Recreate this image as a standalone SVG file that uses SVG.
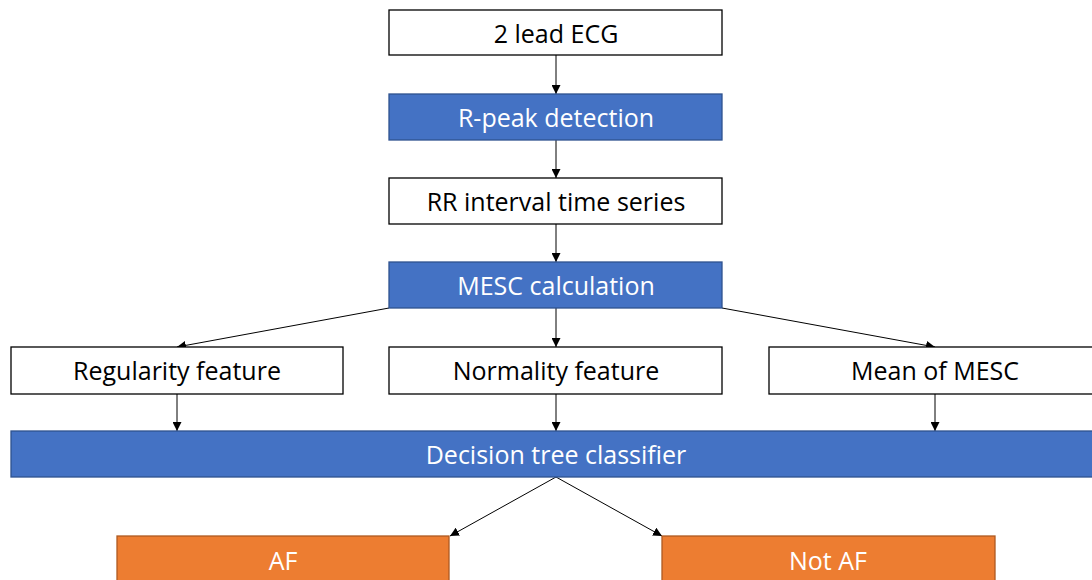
<svg xmlns="http://www.w3.org/2000/svg" width="1092" height="580" viewBox="0 0 1092 580">
<style>
.w{fill:#ffffff;stroke:#000000;stroke-width:1.3}
.b{fill:#4472C4;stroke:#2F528F;stroke-width:1.3}
.o{fill:#ED7D31;stroke:#AE5A21;stroke-width:1.3}
text{font-family:"Open Sans","Liberation Sans",sans-serif;font-size:25px;text-anchor:middle}
.tw{fill:#ffffff}
.tk{fill:#000000}
.c{stroke:#000000;stroke-width:1;fill:none;marker-end:url(#ah)}
</style>
<defs>
<marker id="ah" viewBox="0 0 10 10" refX="10" refY="5" markerWidth="9" markerHeight="9" markerUnits="userSpaceOnUse" orient="auto">
<path d="M0,0 L10,5 L0,10 z" fill="#000000"/>
</marker>
</defs>
<rect width="1092" height="580" fill="#ffffff"/>
<g id="connectors">
<line class="c" x1="556" y1="55" x2="556" y2="94"/>
<line class="c" x1="556" y1="140" x2="556" y2="178"/>
<line class="c" x1="556" y1="224" x2="556" y2="262"/>
<line class="c" x1="389" y1="308" x2="177" y2="347"/>
<line class="c" x1="556" y1="308" x2="556" y2="347"/>
<line class="c" x1="722" y1="308" x2="935" y2="347"/>
<line class="c" x1="177" y1="394" x2="177" y2="431"/>
<line class="c" x1="556" y1="394" x2="556" y2="431"/>
<line class="c" x1="935" y1="394" x2="935" y2="431"/>
<line class="c" x1="556" y1="477" x2="450" y2="536"/>
<line class="c" x1="556" y1="477" x2="662" y2="536"/>
</g>
<g id="ecg"><rect class="w" x="389" y="10" width="333" height="45"/><text class="tk" x="556" y="43">2 lead ECG</text></g>
<g id="rpeak"><rect class="b" x="389" y="94" width="333" height="46"/><text class="tw" x="556" y="127">R-peak detection</text></g>
<g id="rr"><rect class="w" x="389" y="178" width="333" height="46"/><text class="tk" x="556" y="211">RR interval time series</text></g>
<g id="mesc"><rect class="b" x="389" y="262" width="333" height="46"/><text class="tw" x="556" y="295">MESC calculation</text></g>
<g id="regularity"><rect class="w" x="11" y="347" width="332" height="47"/><text class="tk" x="177" y="380">Regularity feature</text></g>
<g id="normality"><rect class="w" x="389" y="347" width="333" height="47"/><text class="tk" x="556" y="380">Normality feature</text></g>
<g id="meanmesc"><rect class="w" x="769" y="347" width="332" height="47"/><text class="tk" x="935" y="380">Mean of MESC</text></g>
<g id="dtree"><rect class="b" x="11" y="431" width="1090" height="46"/><text class="tw" x="556" y="464">Decision tree classifier</text></g>
<g id="af"><rect class="o" x="117" y="536" width="332" height="50"/><text class="tw" x="283" y="570">AF</text></g>
<g id="notaf"><rect class="o" x="662" y="536" width="333" height="50"/><text class="tw" x="828" y="570">Not AF</text></g>
</svg>
